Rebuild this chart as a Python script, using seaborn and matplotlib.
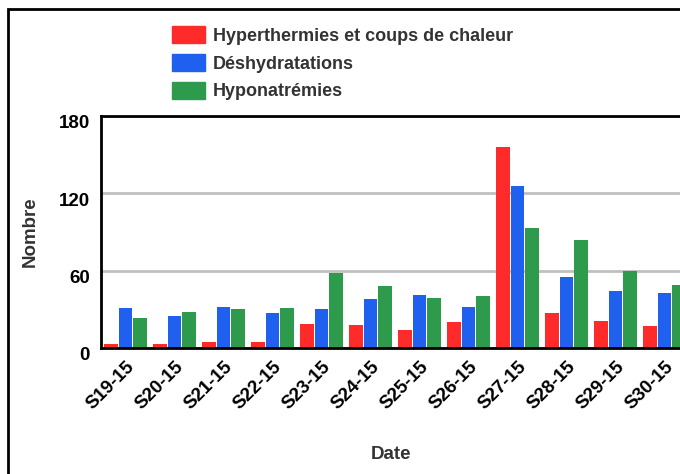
import pandas as pd
import matplotlib.pyplot as plt
import matplotlib.patches as mpatches
import matplotlib.transforms as mtransforms
import seaborn as sns

# Weekly counts
weeks = ['S19-15', 'S20-15', 'S21-15', 'S22-15', 'S23-15', 'S24-15',
         'S25-15', 'S26-15', 'S27-15', 'S28-15', 'S29-15', 'S30-15']
hyperthermies = [3, 3, 5, 5, 19, 18, 14, 20, 156, 27, 21, 17]
deshydratations = [31, 25, 32, 27, 30, 38, 41, 32, 126, 55, 44, 43]
hyponatremies = [23, 28, 30, 31, 58, 48, 39, 40, 93, 84, 60, 49]

series = ['Hyperthermies et coups de chaleur', 'Déshydratations', 'Hyponatrémies']
colors = ['#FF2A2A', '#1F60EF', '#2D9B4B']
y_ticks = [0, 60, 120, 180]

df = pd.DataFrame({
    'Date': weeks * 3,
    'Nombre': hyperthermies + deshydratations + hyponatremies,
    'Serie': [series[0]] * len(weeks) + [series[1]] * len(weeks) + [series[2]] * len(weeks),
})

sns.set_style('white')
plt.rcParams['font.family'] = ['Liberation Sans', 'DejaVu Sans']

fig = plt.figure(figsize=(6.8, 4.74), dpi=100)
ax = fig.add_axes([101 / 680, 1 - 348 / 474, 1 - 101 / 680, (348 - 116) / 474])

sns.barplot(data=df, x='Date', y='Nombre', hue='Serie', hue_order=series,
            palette=colors, width=0.88, gap=0.04, saturation=1, ax=ax,
            legend=False, linewidth=0)

fs = 13.5
ax.set_ylim(0, 180)
ax.set_xlim(-0.5, 11.316)
ax.set_yticks(y_ticks)
ax.set_yticklabels([str(v) for v in y_ticks], fontsize=fs, fontweight='bold', color='black')
ax.yaxis.grid(True, color='#C0C0C0', linewidth=2)
ax.set_axisbelow(True)
ax.tick_params(axis='y', length=0, pad=8)
ax.tick_params(axis='x', length=4, width=1.5, color='black', pad=3)
off = mtransforms.ScaledTranslation(0, -6 / 100, fig.dpi_scale_trans)
for lab in ax.get_yticklabels():
    lab.set_transform(lab.get_transform() + off)

ax.set_xticks(range(len(weeks)))
ax.set_xticklabels(weeks, rotation=45, ha='right', rotation_mode='anchor',
                   fontsize=fs, fontweight='bold', color='black')

for side in ['left', 'top', 'bottom']:
    ax.spines[side].set_visible(True)
    ax.spines[side].set_color('black')
    ax.spines[side].set_linewidth(2)
ax.spines['right'].set_visible(False)

ax.set_ylabel('Nombre', fontsize=fs, fontweight='bold', color='#333333', labelpad=14)
ax.set_xlabel('Date', fontsize=fs, fontweight='bold', color='#333333', labelpad=24)

# Legend at the top
handles = [mpatches.Patch(color=c, label=s) for c, s in zip(colors, series)]
fig.legend(handles=handles, loc='upper left', bbox_to_anchor=(172 / 680, 1 - 26 / 474),
           frameon=False, prop={'weight': 'bold', 'size': 13}, borderpad=0,
           borderaxespad=0, handlelength=1.85, handleheight=1.1, handletextpad=0.4,
           labelspacing=0.5, labelcolor='#333333')

# Outer frame (cropped on the right and bottom)
fig.patches.append(mpatches.Rectangle((8 / 680, -0.2), 1.2, 1.2 - 9 / 474,
                                      transform=fig.transFigure, fill=False,
                                      edgecolor='black', linewidth=2))

fig.savefig('out.png', dpi=100)
